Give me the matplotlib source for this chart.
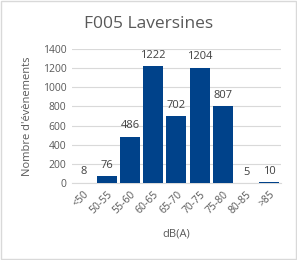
import matplotlib
matplotlib.use("Agg")
import matplotlib.pyplot as plt
from matplotlib.patches import Rectangle

categories = ["<50", "50-55", "55-60", "60-65", "65-70", "70-75", "75-80", "80-85", ">85"]
counts = [8, 76, 486, 1222, 702, 1204, 807, 5, 10]
yticks = [0, 200, 400, 600, 800, 1000, 1200, 1400]

plt.rcParams['font.family'] = ['Open Sans', 'DejaVu Sans']
grey = '#595959'

fig = plt.figure(figsize=(2.97, 2.60), dpi=100)
ax = fig.add_axes([0.242, 0.295, 0.704, 0.517])

x = list(range(len(categories)))
bars = ax.bar(x, counts, width=0.86, color='#00428A', zorder=3)
for xi, v in zip(x, counts):
    ax.text(xi, v + 55, str(v), ha='center', va='bottom', fontsize=8, color='#404040')

ax.set_xlim(-0.5, len(categories) - 0.5)
ax.set_ylim(0, 1400)
ax.set_yticks(yticks)
ax.set_xticks(x)
ax.set_xticklabels(categories, rotation=45, ha='right', rotation_mode='anchor')
ax.tick_params(axis='both', length=0, labelsize=7.5, colors=grey, pad=4)
ax.grid(axis='y', color='#D9D9D9', linewidth=0.8, zorder=0)
for s in ['top', 'right', 'left']:
    ax.spines[s].set_visible(False)
ax.spines['bottom'].set_color('#D9D9D9')

ax.set_ylabel("Nombre d'évènements", fontsize=8, color=grey, labelpad=7)
ax.set_xlabel("dB(A)", fontsize=8, color=grey, labelpad=9)
fig.suptitle("F005 Laversines", fontsize=12.5, color=grey, y=0.94)

fig.patches.append(Rectangle((0.003, 0.003), 0.994, 0.994, transform=fig.transFigure,
                             fill=False, edgecolor='#D9D9D9', linewidth=1))

fig.savefig("out.png", dpi=100)
